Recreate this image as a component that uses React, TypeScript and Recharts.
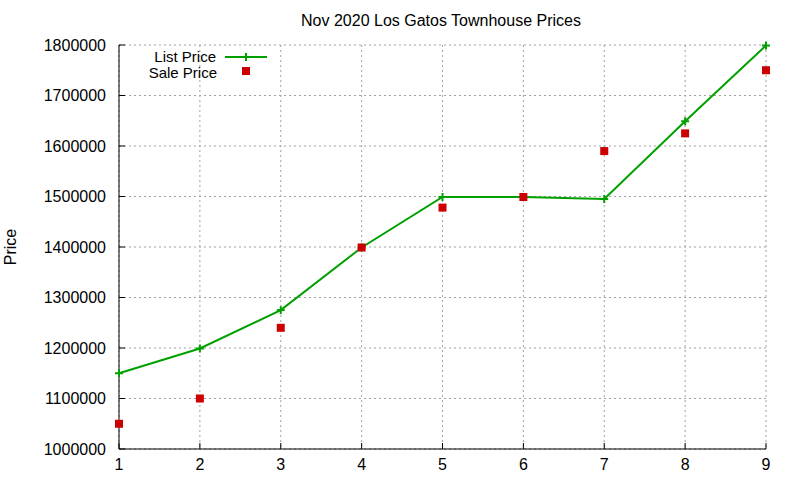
import React from 'react';
import { ComposedChart, Line, XAxis, YAxis, CartesianGrid, Customized } from 'recharts';

const months = [1, 2, 3, 4, 5, 6, 7, 8, 9];
const listPrice = [1150000, 1199000, 1275000, 1399000, 1499000, 1499000, 1495000, 1649000, 1799000];
const salePrice = [1050000, 1100000, 1240000, 1399000, 1478000, 1499000, 1590000, 1625000, 1750000];
const priceTicks = [1000000, 1100000, 1200000, 1300000, 1400000, 1500000, 1600000, 1700000, 1800000];

const data = months.map((m, i) => ({ x: m, list: listPrice[i], sale: salePrice[i] }));

const GREEN = '#00a000';
const RED = '#cc0000';
const FONT = '"Liberation Sans", Arial, sans-serif';

const PlusDot = (props: any) => {
  const { cx, cy } = props;
  if (cx == null || cy == null) return null;
  return (
    <g>
      <line x1={cx - 4} y1={cy} x2={cx + 4} y2={cy} stroke={GREEN} strokeWidth={2} />
      <line x1={cx} y1={cy - 4} x2={cx} y2={cy + 4} stroke={GREEN} strokeWidth={2} />
    </g>
  );
};

const SquareDot = (props: any) => {
  const { cx, cy } = props;
  if (cx == null || cy == null) return null;
  return <rect x={cx - 4} y={cy - 4} width={8} height={8} fill={RED} />;
};

// title + key box, drawn straight into the svg so they don't eat plot space
const Annotations = () => (
  <g style={{ fontFamily: FONT, fontSize: 16 }}>
    <text x={441} y={20} textAnchor="middle" dominantBaseline="central">
      Nov 2020 Los Gatos Townhouse Prices
    </text>
    <g transform="translate(130,49)" style={{ fontSize: 15 }}>
      <text x={86} y={7} textAnchor="end" dominantBaseline="central">List Price</text>
      <line x1={95} y1={8} x2={137} y2={8} stroke={GREEN} strokeWidth={2} />
      <PlusDot cx={116} cy={8} />
      <text x={87} y={23} textAnchor="end" dominantBaseline="central">Sale Price</text>
      <SquareDot cx={116} cy={22} />
    </g>
  </g>
);

export default function App() {
  const tickStyle = { fill: '#000', fontFamily: FONT, fontSize: 16 };
  return (
    <div style={{ position: 'absolute', left: 0, top: 0, background: '#fff' }}>
      <ComposedChart width={800} height={480} data={data} margin={{ top: 45, right: 34, bottom: 0, left: 0 }}>
        <CartesianGrid stroke="#a0a0a0" strokeDasharray="2 3" verticalValues={months} horizontalValues={priceTicks} />
        <XAxis
          dataKey="x"
          type="number"
          domain={[1, 9]}
          ticks={months}
          height={31}
          tick={tickStyle}
          tickSize={-6}
          tickMargin={16}
          axisLine={{ stroke: '#000' }}
          tickLine={{ stroke: '#000' }}
        />
        <XAxis
          xAxisId="top"
          orientation="top"
          dataKey="x"
          type="number"
          domain={[1, 9]}
          ticks={months}
          height={0}
          tickFormatter={() => ''}
          tickSize={-6}
          axisLine={{ stroke: '#000' }}
          tickLine={{ stroke: '#000' }}
        />
        <YAxis
          type="number"
          domain={[1000000, 1800000]}
          ticks={priceTicks}
          width={119}
          tick={tickStyle}
          tickSize={-6}
          tickMargin={19}
          axisLine={{ stroke: '#000' }}
          tickLine={{ stroke: '#000' }}
          label={{ value: 'Price', angle: -90, position: 'insideLeft', offset: 10, style: { fill: '#000', fontFamily: FONT, fontSize: 16, textAnchor: 'middle' } }}
        />
        <YAxis
          yAxisId="right"
          orientation="right"
          type="number"
          domain={[1000000, 1800000]}
          ticks={priceTicks}
          width={0}
          tickFormatter={() => ''}
          tickSize={-6}
          axisLine={{ stroke: '#000' }}
          tickLine={{ stroke: '#000' }}
        />
        <Line
          type="linear"
          dataKey="list"
          stroke={GREEN}
          strokeWidth={2}
          dot={<PlusDot />}
          activeDot={false}
          isAnimationActive={false}
        />
        <Line
          type="linear"
          dataKey="sale"
          stroke="none"
          dot={<SquareDot />}
          activeDot={false}
          isAnimationActive={false}
        />
        <Customized component={Annotations} />
      </ComposedChart>
    </div>
  );
}
